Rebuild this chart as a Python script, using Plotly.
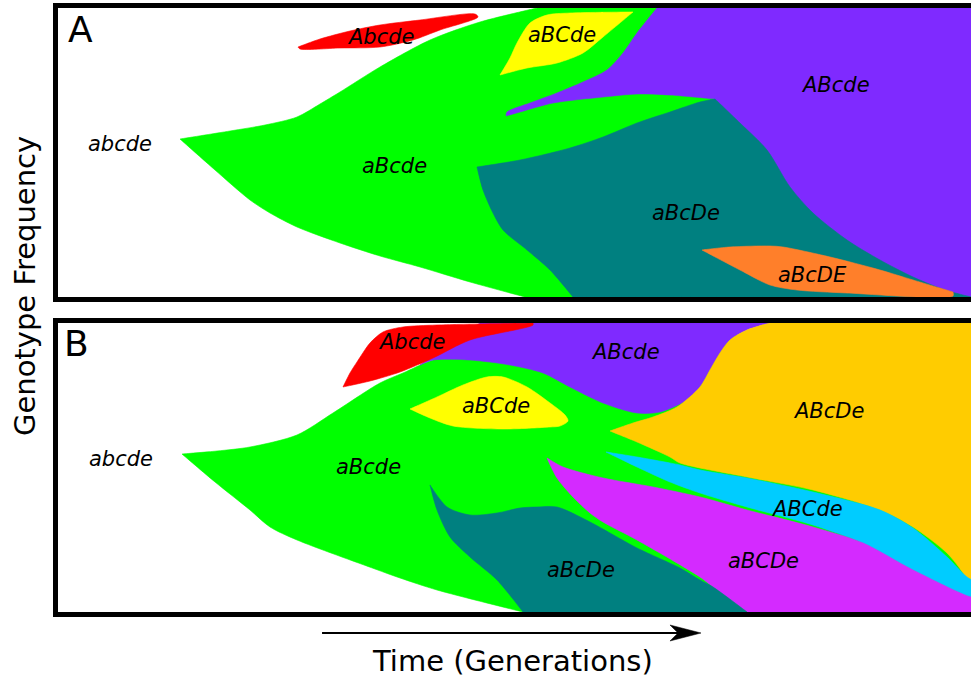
import plotly.graph_objects as go

# Genotype outlines: time in generations, frequency in relative units (0-289 = full population).
# A repeated point marks a sharp corner of the outline.

# ---------------- Panel A
A_aBcde_time = [122, 122, 172, 207, 239, 262, 282, 322, 372, 422, 479, 479, 602, 602, 657, 657, 515, 515, 467, 467, 412, 362, 322, 282, 239, 212, 192, 157, 122]
A_aBcde_freq = [158, 158, 166, 172, 180, 193, 205, 230, 257, 275, 289, 289, 289, 289, 197, 197, 0, 0, 0, 0, 15, 30, 41, 54, 70, 84, 97, 127, 158]

A_Abcde_time = [240, 240, 262, 292, 322, 362, 417, 420, 382, 355, 322, 282, 242, 240]
A_Abcde_freq = [250, 250, 258, 266, 272, 277, 283, 280, 267, 257, 250, 249, 248, 250]

A_aBCde_time = [442, 442, 452, 459, 472, 489, 512, 575, 575, 545, 525, 499, 469, 442]
A_aBCde_freq = [222, 222, 239, 254, 274, 282, 284, 285, 285, 260, 244, 234, 229, 222]

A_ABcde_time = [599, 599, 579, 565, 549, 525, 499, 472, 449, 448, 448, 462, 495, 545, 579, 612, 657, 657, 657, 657, 920, 920, 920, 920, 599]
A_ABcde_freq = [289, 289, 264, 244, 227, 215, 204, 194, 185, 181, 181, 185, 194, 200, 203, 202, 198, 198, 0, 0, 0, 0, 289, 289, 289]

A_aBcDe_time = [419, 419, 462, 512, 545, 579, 612, 642, 657, 657, 682, 709, 732, 755, 789, 822, 855, 887, 913, 913, 515, 515, 492, 469, 445, 435, 425, 419]
A_aBcDe_freq = [130, 130, 137, 149, 160, 174, 185, 195, 198, 198, 174, 147, 110, 84, 57, 37, 20, 7, 0, 0, 0, 0, 27, 47, 67, 84, 107, 130]

A_aBcDE_time = [644, 644, 672, 712, 725, 772, 822, 855, 895, 895, 895, 789, 739, 712, 682, 644]
A_aBcDE_freq = [47, 47, 50, 51, 50, 40, 27, 17, 5, 5, 1, 4, 7, 12, 27, 47]

# ---------------- Panel B
B_aBcde_time = [124, 124, 159, 192, 239, 275, 322, 345, 375, 475, 475, 920, 920, 920, 920, 465, 465, 379, 342, 317, 239, 212, 192, 157, 124]
B_aBcde_freq = [158, 158, 161, 165, 177, 199, 229, 239, 252, 277, 277, 277, 277, 0, 0, 0, 0, 22, 34, 43, 72, 85, 102, 130, 158]

B_ABcde_time = [362, 362, 422, 422, 712, 712, 689, 672, 662, 652, 642, 629, 602, 579, 545, 512, 485, 452, 412, 375, 362]
B_ABcde_freq = [247, 247, 289, 289, 289, 289, 282, 272, 259, 242, 225, 212, 200, 199, 209, 225, 239, 247, 252, 252, 247]

B_Abcde_time = [285, 285, 292, 299, 312, 325, 345, 379, 475, 475, 475, 412, 375, 342, 312, 285]
B_Abcde_freq = [225, 225, 239, 250, 269, 280, 285, 287, 289, 289, 287, 272, 254, 240, 231, 225]

B_aBCde_time = [352, 352, 379, 405, 429, 445, 469, 492, 507, 510, 502, 492, 445, 395, 372, 352]
B_aBCde_freq = [203, 203, 215, 227, 235, 235, 225, 209, 197, 191, 186, 185, 183, 186, 194, 203]

B_ABcDe_time = [552, 552, 575, 595, 619, 642, 652, 662, 672, 689, 712, 712, 920, 920, 920, 920, 913, 905, 889, 855, 822, 755, 689, 622, 612, 579, 552]
B_ABcDe_freq = [181, 181, 189, 195, 205, 225, 242, 259, 272, 282, 289, 289, 289, 289, 24, 24, 24, 39, 59, 85, 102, 122, 135, 149, 155, 170, 181]

B_ABCde_time = [548, 548, 579, 622, 642, 689, 755, 822, 855, 889, 909, 920, 920, 920, 920, 912, 855, 805, 755, 689, 642, 612, 579, 548]
B_ABCde_freq = [160, 160, 155, 147, 142, 134, 120, 102, 84, 55, 35, 29, 29, 14, 14, 15, 42, 69, 87, 105, 119, 130, 145, 160]

B_aBCDe_time = [489, 489, 505, 545, 595, 642, 689, 755, 805, 855, 913, 920, 920, 920, 920, 689, 689, 655, 642, 579, 545, 532, 515, 499, 489]
B_aBCDe_freq = [154, 154, 145, 134, 125, 115, 102, 85, 69, 42, 15, 15, 15, 0, 0, 0, 0, 25, 35, 72, 90, 99, 115, 134, 154]

B_aBcDe_time = [372, 372, 389, 412, 439, 462, 479, 499, 532, 579, 622, 642, 655, 689, 689, 465, 465, 439, 412, 392, 379, 372]
B_aBcDe_freq = [127, 127, 105, 97, 99, 104, 105, 105, 90, 64, 44, 32, 25, 0, 0, 0, 0, 32, 55, 75, 102, 127]

# ---------------- Genotype labels
A_label_text = ["abcde", "Abcde", "aBCde", "ABcde", "aBcde", "aBcDe", "aBcDE"]
A_label_time = [62, 323, 504, 777, 336, 628, 754]
A_label_freq = [153, 260, 262, 212, 131, 84, 22]

B_label_text = ["abcde", "Abcde", "ABcde", "aBCde", "aBcde", "ABcDe", "ABCde", "aBCDe", "aBcDe"]
B_label_time = [63, 354, 567, 438, 310, 770, 749, 705, 523]
B_label_freq = [153, 270, 260, 206, 145, 201, 103, 51, 42]

COLORS = {
    "aBcde": "#00ff00", "Abcde": "#ff0000", "aBCde": "#ffff00", "ABcde": "#7f2aff",
    "aBcDe": "#008080", "aBcDE": "#ff7f2a", "ABcDe": "#ffcc00", "ABCde": "#00ccff",
    "aBCDe": "#d42aff",
}

panel_A = [
    ("aBcde", A_aBcde_time, A_aBcde_freq),
    ("Abcde", A_Abcde_time, A_Abcde_freq),
    ("aBCde", A_aBCde_time, A_aBCde_freq),
    ("ABcde", A_ABcde_time, A_ABcde_freq),
    ("aBcDe", A_aBcDe_time, A_aBcDe_freq),
    ("aBcDE", A_aBcDE_time, A_aBcDE_freq),
]
panel_B = [
    ("aBcde", B_aBcde_time, B_aBcde_freq),
    ("ABcde", B_ABcde_time, B_ABcde_freq),
    ("Abcde", B_Abcde_time, B_Abcde_freq),
    ("aBCde", B_aBCde_time, B_aBCde_freq),
    ("ABcDe", B_ABcDe_time, B_ABcDe_freq),
    ("ABCde", B_ABCde_time, B_ABCde_freq),
    ("aBCDe", B_aBCDe_time, B_aBCDe_freq),
    ("aBcDe", B_aBcDe_time, B_aBcDe_freq),
]

fig = go.Figure()
for panel, (xa, ya) in ((panel_A, ("x", "y")), (panel_B, ("x2", "y2"))):
    for name, t, f in panel:
        fig.add_trace(go.Scatter(
            x=t, y=f, xaxis=xa, yaxis=ya, mode="lines", fill="toself",
            fillcolor=COLORS[name],
            line=dict(width=0.6, color=COLORS[name], shape="spline", smoothing=0.8, simplify=False),
            hoverinfo="skip", showlegend=False, name=name,
        ))

FONT = "DejaVu Sans"
ann = []
for texts, ts, fs, xr, yr in ((A_label_text, A_label_time, A_label_freq, "x", "y"),
                              (B_label_text, B_label_time, B_label_freq, "x2", "y2")):
    for s, t, f in zip(texts, ts, fs):
        ann.append(dict(text="<i>%s</i>" % s, x=t, y=f, xref=xr, yref=yr, showarrow=False,
                        xanchor="center", yanchor="middle",
                        font=dict(family=FONT, size=21, color="black")))

ann.append(dict(text="A", x=22, y=268, xref="x", yref="y", showarrow=False,
                xanchor="center", yanchor="middle",
                font=dict(family=FONT, size=36, color="black")))
ann.append(dict(text="B", x=18, y=268, xref="x2", yref="y2", showarrow=False,
                xanchor="center", yanchor="middle",
                font=dict(family=FONT, size=36, color="black")))
ann.append(dict(text="Genotype Frequency", x=-0.0361, y=0.5397, xref="paper", yref="paper",
                xanchor="center", yanchor="middle",
                textangle=-90, showarrow=False, font=dict(family=FONT, size=29, color="black")))
ann.append(dict(text="Time (Generations)", x=0.4973, y=-0.0811, xref="paper", yref="paper",
                xanchor="center", yanchor="middle",
                showarrow=False, font=dict(family=FONT, size=29, color="black")))

shapes = [
    dict(type="line", xref="paper", yref="paper", x0=0.2892, x1=0.6791, y0=-0.03477, y1=-0.03477,
         line=dict(color="black", width=2)),
    dict(type="path", xref="paper", yref="paper",
         path="M 0.7043 -0.03477 L 0.6703 -0.02152 L 0.6791 -0.03477 L 0.6703 -0.04801 Z",
         fillcolor="black", line=dict(color="black", width=0.5)),
]

axis_common = dict(showgrid=False, zeroline=False, showticklabels=False, ticks="",
                   showline=True, linecolor="black", linewidth=5, fixedrange=True)
fig.update_layout(
    width=971, height=677,
    margin=dict(l=58, r=0, t=8, b=65),
    paper_bgcolor="white", plot_bgcolor="white",
    showlegend=False,
    xaxis=dict(domain=[0, 1], range=[0, 913], anchor="y", mirror=True, **axis_common),
    yaxis=dict(domain=[0.52152, 1], range=[0, 289], anchor="x", mirror=False, **axis_common),
    xaxis2=dict(domain=[0, 1], range=[0, 913], anchor="y2", mirror=True, **axis_common),
    yaxis2=dict(domain=[0, 0.47848], range=[0, 289], anchor="x2", mirror=False, **axis_common),
    annotations=ann,
    shapes=shapes,
)

fig.write_html(
    "out.html",
    config={"displayModeBar": False},
    post_script="document.body.style.margin='0';document.body.style.overflow='hidden';",
)
